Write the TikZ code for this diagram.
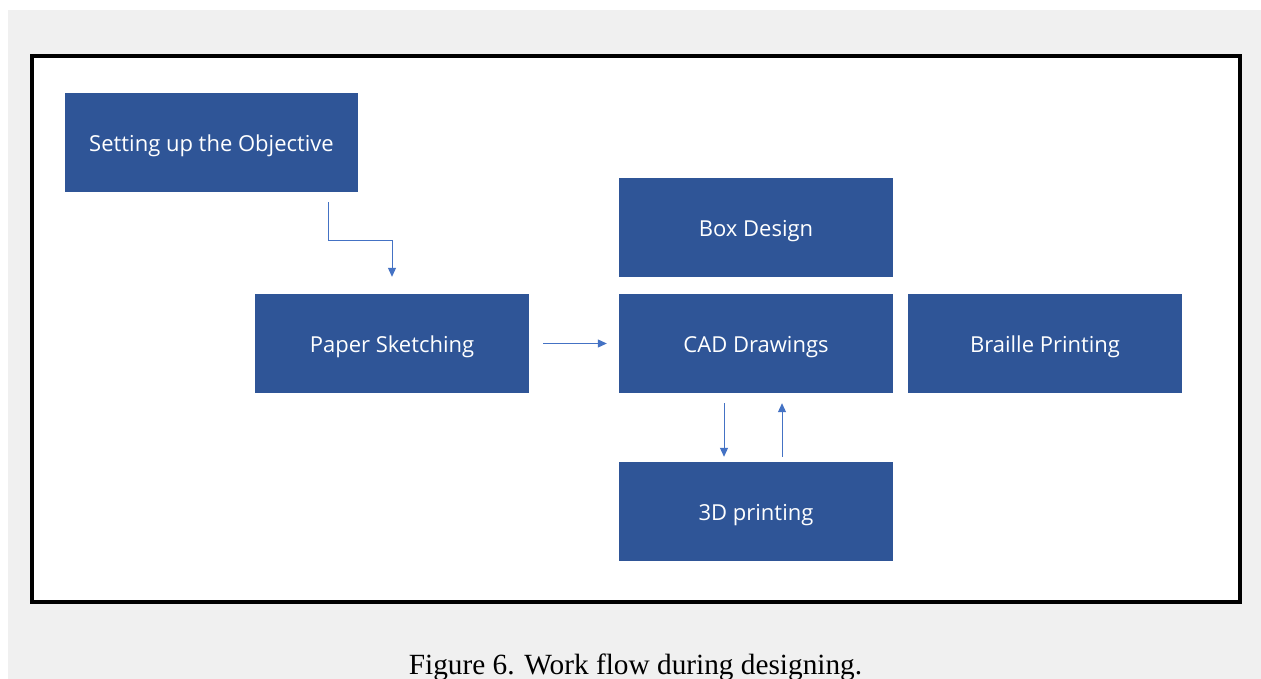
\documentclass[tikz,border=0pt]{standalone}
\usepackage{fontspec}
\setmainfont{Liberation Serif}
\newfontfamily\boxfont{Open Sans}
\usetikzlibrary{arrows.meta}
\definecolor{boxblue}{HTML}{2F5597}
\definecolor{arrblue}{HTML}{4472C4}
\definecolor{bggray}{HTML}{F0F0F0}
\newcommand{\boxtext}[1]{\raisebox{-3.5pt}[\height][\depth]{#1}}
\tikzset{
  stagebox/.style={fill=boxblue, draw=none, text=white, inner sep=0pt,
    minimum width=274pt, minimum height=99pt,
    font=\boxfont\fontsize{22}{26}\selectfont},
  arr/.style={draw=arrblue, line width=1pt, -{Triangle[length=9pt,width=8pt]}},
}
\begin{document}
\begin{tikzpicture}[x=1pt,y=-1pt]
\useasboundingbox (0,0) rectangle (1261,679);
\fill[white] (0,0) rectangle (1261,679);
\fill[bggray] (8,10) rectangle (1261,679);
\draw[black, line width=4pt, fill=white] (32,56) rectangle (1240,602);

\node[stagebox, minimum width=293pt] (obj) at (211.5,142.5) {\boxtext{Setting up the Objective}};
\node[stagebox] (paper) at (392,343.5) {\boxtext{Paper Sketching}};
\node[stagebox] (boxd) at (756,227.5) {\boxtext{Box Design}};
\node[stagebox] (cad) at (756,343.5) {\boxtext{CAD Drawings}};
\node[stagebox] (braille) at (1045,343.5) {\boxtext{Braille Printing}};
\node[stagebox] (print) at (756,511.5) {\boxtext{3D printing}};

\node[font=\fontsize{29.3}{33}\selectfont, anchor=base] (cap) at (635.5,674) {Figure 6. Work flow during designing.};

\draw[arr] ([xshift=116.5pt,yshift=-10pt]obj.south) -- ++(0,38) -| ([yshift=17pt]paper.north);
\draw[arr, shorten <=14pt, shorten >=12pt] (paper.east) -- (cad.west);
\draw[arr] ([xshift=-32pt,yshift=-10pt]cad.south) -- ([xshift=-32pt,yshift=5pt]print.north);
\draw[arr] ([xshift=26pt,yshift=5pt]print.north) -- ([xshift=26pt,yshift=-10pt]cad.south);
\end{tikzpicture}
\end{document}
